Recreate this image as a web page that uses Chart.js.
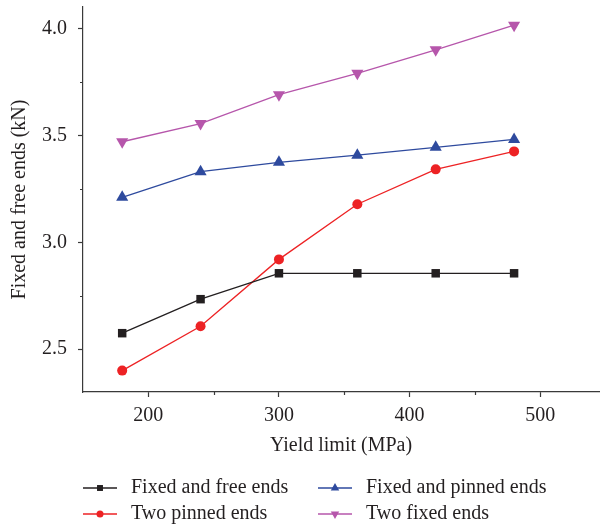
<!DOCTYPE html>
<html>
<head>
<meta charset="utf-8">
<script src="https://cdn.jsdelivr.net/npm/chart.js@4.4.1/dist/chart.umd.min.js"></script>
<style>
  html, body { margin: 0; padding: 0; background: #fff; }
  #graficoCarga { display: block; }
</style>
</head>
<body>
<canvas id="graficoCarga" width="601" height="528"></canvas>
<script>
// datos
const limites = [180, 240, 300, 360, 420, 480];
const fijoLibre = [2.575, 2.734, 2.855, 2.855, 2.855, 2.855];
const dosArticulados = [2.40, 2.607, 2.92, 3.178, 3.341, 3.425];
const fijoArticulado = [3.21, 3.33, 3.374, 3.407, 3.444, 3.481];
const dosFijos = [3.47, 3.555, 3.69, 3.79, 3.90, 4.015];

const nombres = ['Fixed and free ends', 'Two pinned ends', 'Fixed and pinned ends', 'Two fixed ends'];
const ticksX = [200, 300, 400, 500];
const menoresX = [250, 350, 450];
const ticksY = [2.5, 3.0, 3.5, 4.0];
const menoresY = [2.75, 3.25, 3.75];

const TEXTO = '#231f20';
const EJE = '#3a3a3a';
const FUENTE = '"Liberation Serif", "DejaVu Serif", serif';

Chart.defaults.font.family = FUENTE;
Chart.defaults.color = TEXTO;

function serie(label, valores, color, estilo, rotacion, radio) {
    return {
        label: label,
        data: limites.map((x, i) => ({ x: x, y: valores[i] })),
        borderColor: color,
        backgroundColor: color,
        borderWidth: 1.3,
        pointStyle: estilo,
        rotation: rotacion,
        pointRadius: radio,
        pointBorderWidth: 0,
        pointBackgroundColor: color,
        pointBorderColor: color,
        tension: 0
    };
}

// marcas menores y leyenda dibujadas a mano
const extras = {
    id: 'extras',
    afterDraw(chart) {
        const ctx = chart.ctx;
        const area = chart.chartArea;
        const sx = chart.scales.x, sy = chart.scales.y;
        ctx.save();
        ctx.strokeStyle = EJE;
        ctx.lineWidth = 1.2;
        ctx.beginPath();
        menoresX.forEach(v => {
            const px = Math.round(sx.getPixelForValue(v)) + 0.5;
            ctx.moveTo(px, area.bottom);
            ctx.lineTo(px, area.bottom + 3);
        });
        menoresY.forEach(v => {
            const py = Math.round(sy.getPixelForValue(v)) + 0.5;
            ctx.moveTo(area.left, py);
            ctx.lineTo(area.left - 3, py);
        });
        ctx.stroke();

        // leyenda en dos columnas
        const colX = [83, 318];
        const filaY = [488, 514];
        ctx.font = '20px ' + FUENTE;
        ctx.textBaseline = 'middle';
        ctx.textAlign = 'left';
        chart.data.datasets.forEach((ds, i) => {
            const x0 = colX[Math.floor(i / 2)];
            const y0 = filaY[i % 2];
            ctx.strokeStyle = ds.borderColor;
            ctx.lineWidth = 1.3;
            ctx.beginPath();
            ctx.moveTo(x0, y0);
            ctx.lineTo(x0 + 34, y0);
            ctx.stroke();
            ctx.fillStyle = ds.backgroundColor;
            Chart.helpers.drawPoint(ctx, {
                pointStyle: ds.pointStyle,
                rotation: ds.rotation,
                radius: ds.pointRadius * 0.7,
                borderWidth: 0
            }, x0 + 17, y0);
            ctx.fillStyle = TEXTO;
            ctx.fillText(ds.label, x0 + 48, y0);
        });
        ctx.restore();
    }
};

const ctx = document.getElementById('graficoCarga').getContext('2d');
new Chart(ctx, {
    type: 'line',
    data: {
        datasets: [
            serie(nombres[0], fijoLibre, '#231f20', 'rect', 0, 6),
            serie(nombres[1], dosArticulados, '#ed2224', 'circle', 0, 5),
            serie(nombres[2], fijoArticulado, '#2e4a9e', 'triangle', 0, 7),
            serie(nombres[3], dosFijos, '#b656ab', 'triangle', 180, 7)
        ]
    },
    options: {
        responsive: false,
        animation: false,
        layout: { autoPadding: false, padding: { top: 7, right: 2, left: 0, bottom: 66 } },
        plugins: {
            legend: { display: false },
            tooltip: { enabled: false }
        },
        scales: {
            x: {
                type: 'linear',
                min: 150,
                max: 545,
                afterBuildTicks: s => { s.ticks = ticksX.map(v => ({ value: v })); },
                afterFit: s => { s.height = 70; s.paddingLeft = 0; s.paddingRight = 0; },
                grid: { drawOnChartArea: false, drawTicks: true, tickLength: 5, tickWidth: 1.2, tickColor: EJE },
                border: { display: true, color: EJE, width: 1.2 },
                ticks: { font: { size: 20 }, color: TEXTO, padding: 7, maxRotation: 0 },
                title: { display: true, text: 'Yield limit (MPa)', font: { size: 20 }, color: TEXTO, padding: { top: 4, bottom: 4 } }
            },
            y: {
                type: 'linear',
                min: 2.3,
                max: 4.1,
                afterBuildTicks: s => { s.ticks = ticksY.map(v => ({ value: v })); },
                afterFit: s => { s.width = 83; s.paddingTop = 0; s.paddingBottom = 0; },
                grid: { drawOnChartArea: false, drawTicks: true, tickLength: 5, tickWidth: 1.2, tickColor: EJE },
                border: { display: true, color: EJE, width: 1.2 },
                ticks: { font: { size: 20 }, color: TEXTO, padding: 11, callback: v => v.toFixed(1) },
                title: { display: true, text: 'Fixed and free ends (kN)', font: { size: 20 }, color: TEXTO, padding: { top: 8, bottom: 4 } }
            }
        }
    },
    plugins: [extras]
});
</script>
</body>
</html>
